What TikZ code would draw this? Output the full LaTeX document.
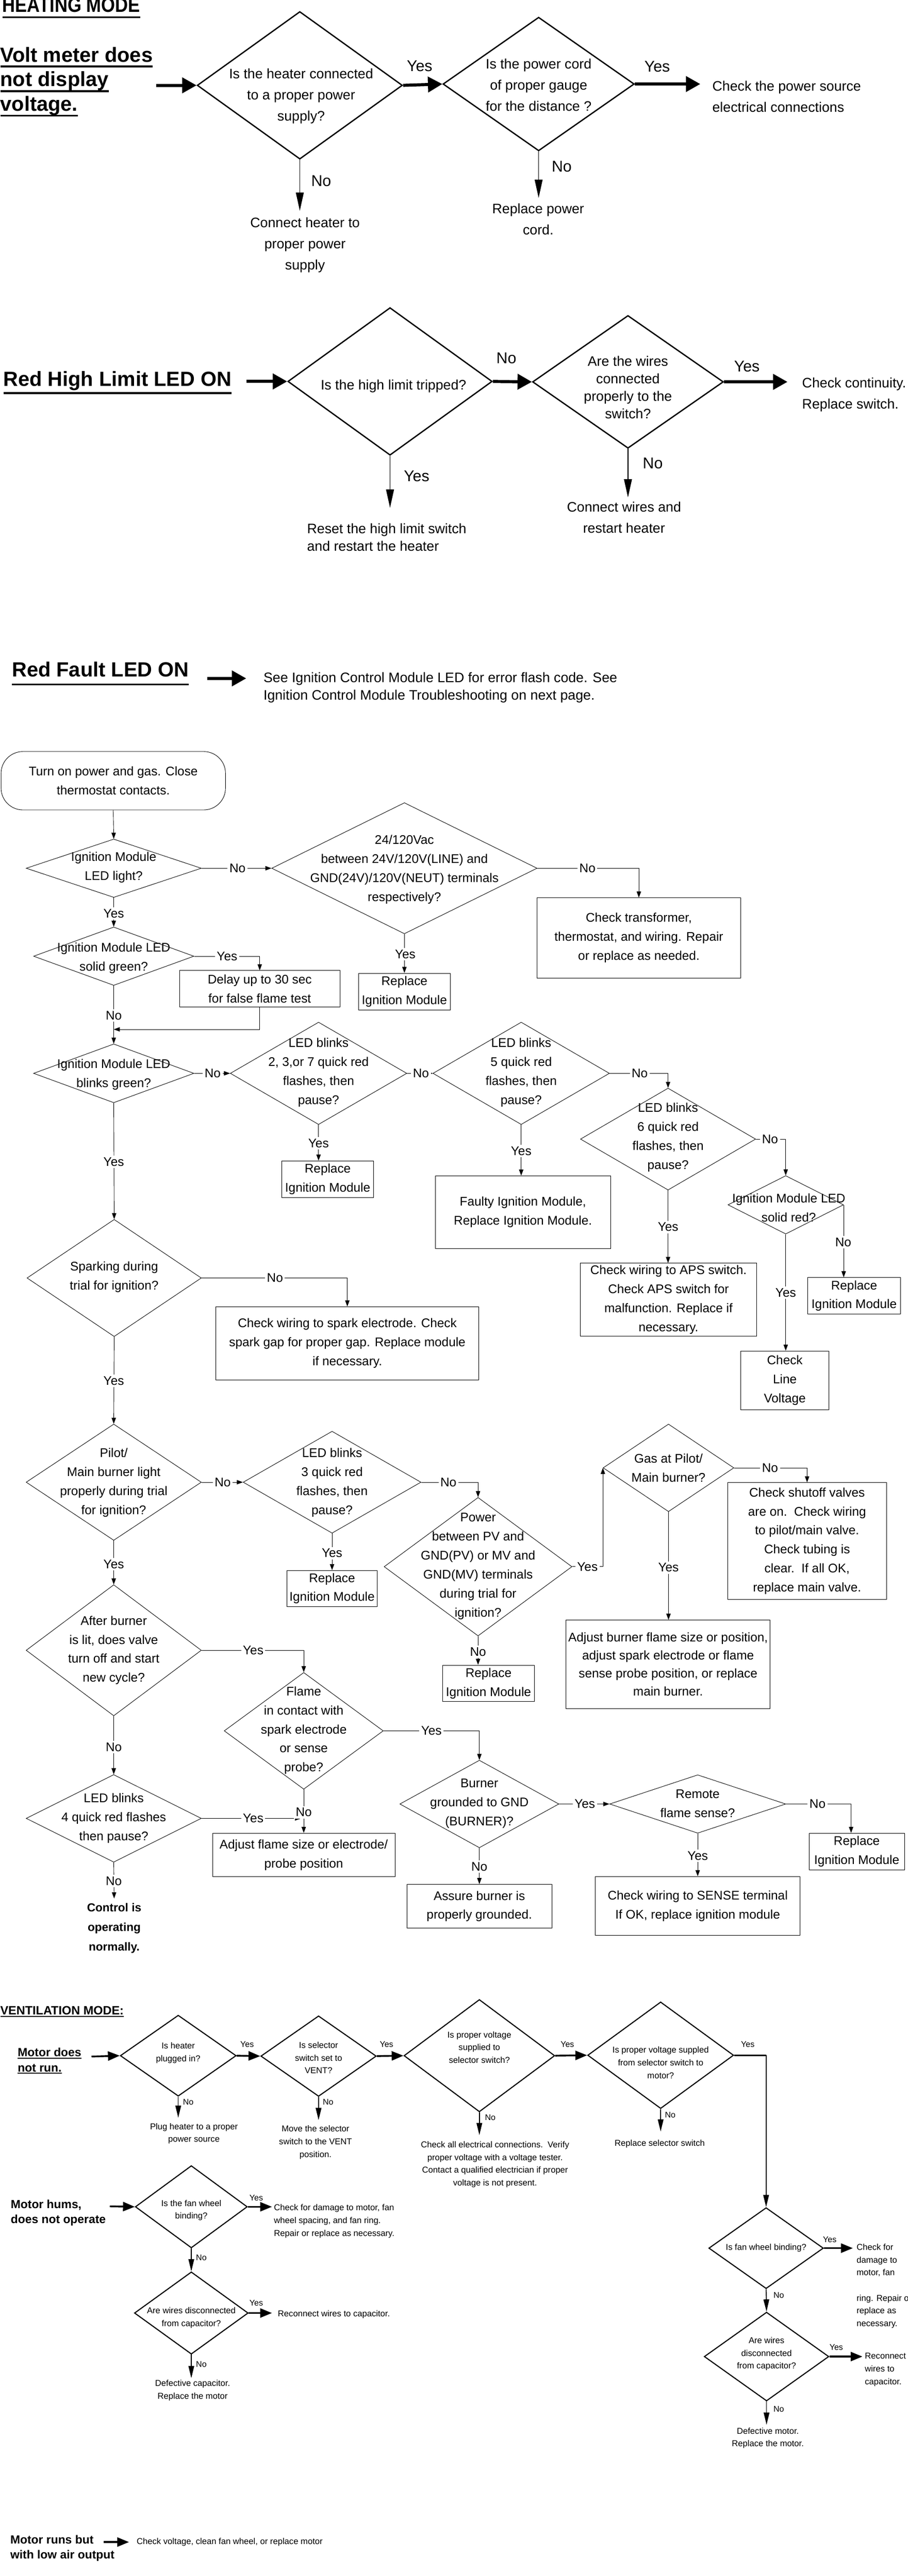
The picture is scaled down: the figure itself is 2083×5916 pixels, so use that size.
\documentclass[tikz,border=0pt]{standalone}
\usepackage{fontspec}
\setmainfont{Liberation Sans}
\usetikzlibrary{shapes.geometric,arrows.meta}

\newsavebox\ulbox
\newcommand\ulhd[3]{\sbox\ulbox{#3}\rlap{\rule[#1]{\wd\ulbox}{#2}}\usebox\ulbox}
\newcommand\hdfont{\fontsize{13.4}{16}\selectfont\bfseries}
\newcommand\htfont{\fontsize{9}{13.8}\selectfont}
\newcommand\ynfont{\fontsize{10.2}{12}\selectfont}
\newcommand\fcfont{\fontsize{8.2}{12.4}\selectfont}
\newcommand\fcbold{\fontsize{7.6}{12.8}\selectfont\bfseries}
\newcommand\vtfont{\fontsize{5.6}{8.3}\selectfont}
\newcommand\vhfont{\fontsize{7.7}{9.9}\selectfont\bfseries}
\newcommand\vynfont{\fontsize{5.4}{6}\selectfont}

\tikzset{
  hdia/.style 2 args={draw, diamond, line width=0.85pt, inner sep=0pt, minimum width=#1, minimum height=#2},
  fdia/.style 2 args={draw, diamond, line width=0.3pt, inner sep=0pt, minimum width=#1, minimum height=#2},
  vdia/.style 2 args={draw, diamond, line width=0.7pt, inner sep=0pt, minimum width=#1, minimum height=#2},
  fcrect/.style 2 args={draw, line width=0.3pt, inner sep=0pt, minimum width=#1, minimum height=#2, align=center, font=\fcfont},
  htxt/.style={inner sep=0pt, align=center, font=\htfont},
  fctx/.style={inner sep=0pt, align=center, font=\fcfont},
  vtx/.style={inner sep=0pt, align=center, font=\vtfont},
  hyn/.style={inner sep=0pt, font=\ynfont},
  fclab/.style={fill=white, inner sep=1.2pt, font=\fcfont},
  vyn/.style={inner sep=0pt, font=\vynfont},
  harr/.style={line width=2pt, -{Triangle[length=3.3mm,width=3.5mm]}},
  hdown/.style={line width=0.55pt, -{Triangle[length=4.2mm,width=1.8mm]}},
  fcl/.style={line width=0.3pt, -{Triangle[length=1.4mm,width=1mm]}},
  varr/.style={line width=1.15pt, -{Triangle[length=2.7mm,width=2.1mm]}},
  vdown/.style={line width=0.55pt, -{Triangle[length=2.8mm,width=1.3mm]}}
}

\begin{document}
\begin{tikzpicture}[x=0.1mm,y=-0.1mm]
\useasboundingbox (0,0) rectangle (2083,5916);

% heating mode
\node[anchor=west, inner sep=0pt] (hm) at (5,18) {\scalebox{0.87}[1]{\hdfont\ulhd{-1.4mm}{0.4mm}{HEATING MODE}}};
\node[anchor=west, inner sep=0pt, align=left, font=\hdfont] (vm) at (0,188) {\ulhd{-1.3mm}{0.45mm}{Volt meter does}\\\ulhd{-1.3mm}{0.45mm}{not display}\\\ulhd{-1.3mm}{0.45mm}{voltage.}};
\coordinate (vma) at (359,196);
\node[hdia={47.1mm}{33.9mm}] (h1) at (688,196) {};
\node[htxt] (h1t) at (691,221) {Is the heater connected\\to a proper power\\supply?};
\node[hdia={43.9mm}{30.7mm}] (h2) at (1236,193) {};
\node[htxt] (h2t) at (1236,195) {Is the power cord\\of proper gauge\\for the distance ?};
\node[htxt, align=left, anchor=west] (h3) at (1634,222) {Check the power source\\electrical connections};
\node[htxt] (h4) at (700,563) {Connect heater to\\proper power\\supply};
\node[htxt] (h5) at (1235,503) {Replace power\\cord.};
\draw[harr] (vma) -- (h1.west);
\draw[harr] (h1.east) -- (h2.west);
\draw[harr, shorten >=2.7mm] (h2.east) -- (h2.east -| h3.west);
\draw[hdown, shorten >=1.5mm] (h1.south) -- (h1.south |- h4.north);
\draw[hdown, shorten >=1.2mm] (h2.south) -- (h2.south |- h5.north);

% red high limit
\node[anchor=west, inner sep=0pt, font=\hdfont] (rl) at (7,879) {\ulhd{-1.8mm}{0.45mm}{Red High Limit LED ON}};
\coordinate (rla) at (565,876);
\node[hdia={46.9mm}{33.9mm}] (l1) at (895,876) {};
\node[htxt] (l1t) at (903,887) {Is the high limit tripped?};
\node[hdia={43.8mm}{30.5mm}] (l2) at (1441,877) {};
\node[htxt, font=\fontsize{9}{11.5}\selectfont] (l2t) at (1441,890) {Are the wires\\connected\\properly to the\\switch?};
\node[htxt, align=left, anchor=west] (l3) at (1840,906) {Check continuity.\\Replace switch.};
\node[htxt, align=left, anchor=west, font=\fontsize{9}{11.7}\selectfont] (l4) at (704,1234) {Reset the high limit switch\\and restart the heater};
\node[htxt] (l5) at (1432,1189) {Connect wires and\\restart heater};
\draw[harr] (rla) -- (l1.west);
\draw[harr] (l1.east) -- (l2.west);
\draw[harr, shorten >=3.3mm] (l2.east) -- (l2.east -| l3.west);
\draw[hdown, shorten >=3.5mm] (l1.south) -- (l1.south |- l4.north);
\draw[hdown, shorten >=1mm] (l2.south) -- (l2.south |- l5.north);

\foreach \lb/\x/\y [count=\i] in {Yes/963/152, Yes/1508/153, No/737/415, No/1289/382,
    No/1162/823, Yes/1714/841, Yes/956/1093, No/1498/1064}
  \node[hyn] (hq\i) at (\x,\y) {\lb};

% red fault
\node[anchor=west, inner sep=0pt, font=\hdfont] (rf) at (27,1547) {\ulhd{-2mm}{0.45mm}{Red Fault LED ON}};
\coordinate (rfa) at (476,1558);
\node[htxt, align=left, anchor=west, font=\fontsize{9}{11.7}\selectfont] (rft) at (604,1579) {See Ignition Control Module LED for error flash code. See\\Ignition Control Module Troubleshooting on next page.};
\draw[harr, shorten >=3.9mm] (rfa) -- (rfa -| rft.west);

% ignition module flow chart
\node[draw, line width=0.3pt, rounded corners=5mm, minimum width=51.5mm, minimum height=13.4mm, inner sep=0pt, align=center, font=\fcfont] (st) at (260,1793) {Turn on power and gas. Close\\thermostat contacts.};
\node[fdia={40.2mm}{13.4mm}] (d1) at (261,1994) {};
\node[fctx] (d1t) at (261,1992) {Ignition Module\\LED light?};
\node[fdia={60.9mm}{30.1mm}] (d2) at (928,1994) {};
\node[fctx] (d2t) at (928,1997) {24/120Vac\\between 24V/120V(LINE) and\\GND(24V)/120V(NEUT) terminals\\respectively?};
\node[fcrect={46.7mm}{18.4mm}] (tr) at (1466,2154) {Check transformer,\\thermostat, and wiring. Repair\\or replace as needed.};
\node[fcrect={21mm}{8.4mm}] (rim1) at (928,2277) {Replace\\Ignition Module};
\node[fdia={36.8mm}{13.4mm}] (d3) at (261,2196) {};
\node[fctx] (d3t) at (261,2200) {Ignition Module LED\\solid green?};
\node[fcrect={36.8mm}{8.4mm}] (dly) at (596,2271) {Delay up to 30 sec\\for false flame test};
\coordinate (j1) at (261,2364);
\node[fdia={36.8mm}{13.5mm}] (d4) at (261,2465) {};
\node[fctx] (d4t) at (261,2468) {Ignition Module LED\\blinks green?};
\node[fdia={40.5mm}{23.5mm}] (d5) at (731,2465) {};
\node[fctx] (d5t) at (731,2463) {LED blinks\\2, 3,or 7 quick red\\flashes, then\\pause?};
\node[fdia={40.5mm}{23.5mm}] (d6) at (1196,2465) {};
\node[fctx] (d6t) at (1196,2463) {LED blinks\\5 quick red\\flashes, then\\pause?};
\node[fdia={40.2mm}{23.4mm}] (d7) at (1533,2616) {};
\node[fctx] (d7t) at (1533,2612) {LED blinks\\6 quick red\\flashes, then\\pause?};
\node[fdia={26.5mm}{13.4mm}] (d8) at (1803,2767) {};
\node[fctx] (d8t) at (1810,2774) {Ignition Module LED\\solid red?};
\node[fcrect={21.3mm}{8.4mm}] (rim3) at (1960,2976) {Replace\\Ignition Module};
\node[fcrect={20.2mm}{13.5mm}] (clv) at (1801,3170) {Check\\Line\\Voltage};
\node[fcrect={40.4mm}{16.8mm}] (aps) at (1534,2985) {Check wiring to APS switch.\\Check APS switch for\\malfunction. Replace if\\necessary.};
\node[fcrect={40.2mm}{16.7mm}] (fim) at (1200,2784) {Faulty Ignition Module,\\Replace Ignition Module.};
\node[fcrect={21mm}{8.4mm}] (rim2) at (752,2708) {Replace\\Ignition Module};
\node[fdia={40mm}{26.9mm}] (d9) at (262,2935) {};
\node[fctx] (d9t) at (262,2933) {Sparking during\\trial for ignition?};
\node[fcrect={60.4mm}{16.8mm}] (spk) at (797,3085) {Check wiring to spark electrode. Check\\spark gap for proper gap. Replace module\\if necessary.};
\node[fdia={40.2mm}{26.7mm}] (d10) at (261,3404) {};
\node[fctx] (d10t) at (261,3405) {Pilot/\\Main burner light\\properly during trial\\for ignition?};
\node[fdia={40.8mm}{23.4mm}] (d11) at (762,3404) {};
\node[fctx] (d11t) at (762,3405) {LED blinks\\3 quick red\\flashes, then\\pause?};
\node[fcrect={20.8mm}{8.3mm}] (rim4) at (762,3648) {Replace\\Ignition Module};
\node[fdia={43.1mm}{31.8mm}] (d12) at (1097,3598) {};
\node[fctx] (d12t) at (1097,3597) {Power\\between PV and\\GND(PV) or MV and\\GND(MV) terminals\\during trial for\\ignition?};
\node[fdia={30mm}{20.1mm}] (d13) at (1534,3371) {};
\node[fctx] (d13t) at (1534,3371) {Gas at Pilot/\\Main burner?};
\node[fcrect={36.5mm}{26.8mm}] (shv) at (1852,3539) {Check shutoff valves\\are on.\ \ Check wiring\\to pilot/main valve.\\Check tubing is\\clear.\ \ If all OK,\\replace main valve.};
\node[fcrect={46.8mm}{20.3mm}, font=\fontsize{8.2}{11.7}\selectfont] (adj) at (1533,3822) {Adjust burner flame size or position,\\adjust spark electrode or flame\\sense probe position, or replace\\main burner.};
\node[fcrect={21mm}{8.4mm}] (rim5) at (1121,3866) {Replace\\Ignition Module};
\node[fdia={40.2mm}{30.1mm}] (d14) at (261,3790) {};
\node[fctx] (d14t) at (261,3790) {After burner\\is lit, does valve\\turn off and start\\new cycle?};
\node[fdia={36.5mm}{26.8mm}] (d15) at (697,3975) {};
\node[fctx] (d15t) at (697,3974) {Flame\\in contact with\\spark electrode\\or sense\\probe?};
\node[fcrect={41.9mm}{10mm}] (afs) at (697,4260) {Adjust flame size or electrode/\\probe position};
\node[fdia={36.5mm}{20.1mm}] (d16) at (1100,4143) {};
\node[fctx] (d16t) at (1100,4142) {Burner\\grounded to GND\\(BURNER)?};
\node[fdia={40.4mm}{13.4mm}] (d17) at (1601,4143) {};
\node[fctx] (d17t) at (1601,4142) {Remote\\flame sense?};
\node[fcrect={21.9mm}{8.4mm}] (rim6) at (1966,4252) {Replace\\Ignition Module};
\node[fcrect={47mm}{13.5mm}] (sns) at (1601,4377) {Check wiring to SENSE terminal\\If OK, replace ignition module};
\node[fcrect={33.3mm}{10.1mm}] (asb) at (1100,4378) {Assure burner is\\properly grounded.};
\node[fdia={40.2mm}{20.1mm}] (d18) at (261,4176) {};
\node[fctx] (d18t) at (261,4176) {LED blinks\\4 quick red flashes\\then pause?};
\node[inner sep=0pt, align=center, font=\fcbold] (ctl) at (262,4428) {Control is\\operating\\normally.};

\draw[fcl] (st.south) -- (d1.north);
\draw[fcl] (d1.east) -- (d2.west);
\draw[fcl] (d2.east) -| (tr.north);
\draw[fcl] (d2.south) -- (rim1.north);
\draw[fcl] (d1.south) -- (d3.north);
\draw[fcl] (d3.east) -| (dly.north);
\draw[fcl] (d3.south) -- (d4.north);
\draw[fcl] (dly.south) |- (j1);
\draw[fcl] (d4.east) -- (d5.west);
\draw[fcl] (d5.east) -- (d6.west);
\draw[fcl] (d6.east) -| (d7.north);
\draw[fcl] (d7.east) -| (d8.north);
\draw[fcl] (d8.east) -- (d8.east |- rim3.north);
\draw[fcl] (d8.south) -- (d8.south |- clv.north);
\draw[fcl] (d7.south) -- (d7.south |- aps.north);
\draw[fcl] (d6.south) -- (d6.south |- fim.north);
\draw[fcl] (d5.south) -- (d5.south |- rim2.north);
\draw[fcl] (d4.south) -- (d9.north);
\draw[fcl] (d9.east) -| (spk.north);
\draw[fcl] (d9.south) -- (d10.north);
\draw[fcl] (d10.east) -- (d11.west);
\draw[fcl] (d11.south) -- (rim4.north);
\draw[fcl] (d11.east) -| (d12.north);
\draw[fcl] (d12.east) -| (d13.west);
\draw[fcl] (d13.east) -| (shv.north);
\draw[fcl] (d13.south) -- (d13.south |- adj.north);
\draw[fcl] (d12.south) -- (d12.south |- rim5.north);
\draw[fcl] (d10.south) -- (d14.north);
\draw[fcl] (d14.east) -| (d15.north);
\draw[fcl] (d15.east) -| (d16.north);
\draw[fcl] (d15.south) -- (afs.north);
\draw[fcl] (d16.east) -- (d17.west);
\draw[fcl] (d17.east) -| ([xshift=-1.3mm]rim6.north);
\draw[fcl] (d17.south) -- (sns.north);
\draw[fcl] (d16.south) -- (asb.north);
\draw[fcl] (d14.south) -- (d18.north);
\draw[fcl, shorten >=0.6mm] (d18.east) -- (d18.east -| d15.south);
\draw[fcl, shorten >=1mm] (d18.south) -- (ctl.north);

\foreach \lb/\x/\y [count=\i] in {No/545/1994, No/1348/1994, Yes/930/2191, Yes/261/2098,
    Yes/521/2196, No/261/2332, No/488/2465, No/966/2465, No/1468/2465, No/1767/2616,
    No/1935/2853, Yes/1803/2969, Yes/1533/2818, Yes/1196/2643, Yes/731/2626,
    Yes/261/2668, No/631/2935, Yes/261/3171, No/511/3404, Yes/762/3567, No/1029/3404,
    Yes/1348/3598, No/1767/3371, Yes/1534/3600, No/1097/3793, Yes/261/3592,
    Yes/581/3790, Yes/990/3975, No/697/4162, Yes/1342/4143, No/1876/4143,
    Yes/1601/4262, No/1100/4287, No/261/4012, Yes/581/4176, No/261/4320}
  \node[fclab] (fq\i) at (\x,\y) {\lb};

% ventilation mode
\node[anchor=west, inner sep=0pt, font=\fontsize{7.9}{9}\selectfont\bfseries] (vt) at (0,4620) {\ulhd{-0.5mm}{0.25mm}{VENTILATION MODE:}};
\node[anchor=west, inner sep=0pt, align=left, font=\vhfont] (md) at (40,4733) {\ulhd{-0.45mm}{0.25mm}{Motor does}\\\ulhd{-0.45mm}{0.25mm}{not run.}};
\coordinate (mda) at (210,4723);
\node[vdia={26.6mm}{18.6mm}] (v1) at (409,4721) {};
\node[vtx] (v1t) at (409,4715) {Is heater\\plugged in?};
\node[vdia={26.5mm}{18.5mm}] (v2) at (731,4722) {};
\node[vtx] (v2t) at (731,4726) {Is selector\\switch set to\\VENT?};
\node[vdia={34.6mm}{25.8mm}] (v3) at (1100,4721) {};
\node[vtx] (v3t) at (1100,4702) {Is proper voltage\\supplied to\\selector switch?};
\node[vdia={33.5mm}{24.5mm}] (v4) at (1516,4720) {};
\node[vtx] (v4t) at (1516,4737) {Is proper voltage suppled\\from selector switch to\\motor?};
\node[vtx] (v1r) at (445,4900) {Plug heater to a proper\\power source};
\node[vtx] (v2r) at (724,4920) {Move the selector\\switch to the VENT\\position.};
\node[vtx] (v3r) at (1136,4971) {Check all electrical connections.\ \ Verify\\proper voltage with a voltage tester.\\Contact a qualified electrician if proper\\voltage is not present.};
\node[vtx] (v4r) at (1514,4923) {Replace selector switch};
\draw[varr] (mda) -- (v1.west);
\draw[varr] (v1.east) -- (v2.west);
\draw[varr] (v2.east) -- (v3.west);
\draw[varr] (v3.east) -- (v4.west);
\draw[vdown, shorten >=1.2mm] (v1.south) -- (v1.south |- v1r.north);
\draw[vdown, shorten >=1.2mm] (v2.south) -- (v2.south |- v2r.north);
\draw[vdown, shorten >=1.4mm] (v3.south) -- (v3.south |- v3r.north);
\draw[vdown, shorten >=1.8mm] (v4.south) -- (v4.south |- v4r.north);

\node[anchor=west, inner sep=0pt, align=left, font=\vhfont] (mh) at (24,5082) {Motor hums,\\does not operate};
\coordinate (mha) at (252,5067);
\node[vdia={25.7mm}{18.9mm}] (m1) at (439,5068) {};
\node[vtx] (m1t) at (439,5076) {Is the fan wheel\\binding?};
\node[vtx, align=left, anchor=west] (m1r) at (628,5101) {Check for damage to motor, fan\\wheel spacing, and fan ring.\\Repair or replace as necessary.};
\node[vdia={26.1mm}{18.9mm}] (m2) at (439,5312) {};
\node[vtx] (m2t) at (439,5323) {Are wires disconnected\\from capacitor?};
\node[vtx, anchor=west] (m2r) at (637,5315) {Reconnect wires to capacitor.};
\node[vtx] (m2d) at (442,5490) {Defective capacitor.\\Replace the motor};
\draw[varr] (mha) -- (m1.west);
\draw[varr, shorten >=0.4mm] (m1.east) -- (m1.east -| m1r.west);
\draw[vdown] (m1.south) -- (m2.north);
\draw[varr, shorten >=1.3mm] (m2.east) -- (m2.east -| m2r.west);
\draw[vdown, shorten >=0.4mm] (m2.south) -- (m2.south |- m2d.north);

\node[vdia={26.3mm}{18.6mm}] (w1) at (1758,5163) {};
\node[vtx] (w1t) at (1758,5163) {Is fan wheel binding?};
\node[vtx, align=left, anchor=west] (w1r) at (1965,5250) {Check for\\damage to\\motor, fan\\[8.3pt]ring. Repair or\\replace as\\necessary.};
\node[vdia={28.6mm}{20.4mm}] (w2) at (1759,5412) {};
\node[vtx] (w2t) at (1759,5406) {Are wires\\disconnected\\from capacitor?};
\node[vtx, align=left, anchor=west] (w2r) at (1984,5442) {Reconnect\\wires to\\capacitor.};
\node[vtx] (w2d) at (1762,5599) {Defective motor.\\Replace the motor.};
\draw[line width=1.15pt] (v4.east) -- (v4.east -| w1.north);
\draw[vdown] (v4.east -| w1.north) -- (w1.north);
\draw[varr, shorten >=0.8mm] (w1.east) -- (w1.east -| w1r.west);
\draw[vdown] (w1.south) -- (w2.north);
\draw[varr, shorten >=0.5mm] (w2.east) -- (w2.east -| w2r.west);
\draw[vdown, shorten >=0.6mm] (w2.south) -- (w2.south |- w2d.north);

\node[anchor=west, inner sep=0pt, align=left, font=\vhfont] (mr) at (23,5852) {Motor runs but\\with low air output};
\coordinate (mra) at (238,5838);
\node[vtx, anchor=west] (mrt) at (313,5838) {Check voltage, clean fan wheel, or replace motor};
\draw[varr, shorten >=1.7mm] (mra) -- (mrt.west);

\foreach \lb/\x/\y [count=\i] in {Yes/567/4695, Yes/887/4695, Yes/1302/4695, Yes/1716/4695,
    No/432/4828, No/753/4828, No/1125/4863, No/1538/4857, Yes/588/5047, No/462/5185,
    Yes/588/5289, No/462/5430, Yes/1904/5143, No/1787/5271, Yes/1919/5391, No/1787/5533}
  \node[vyn] (vq\i) at (\x,\y) {\lb};
\end{tikzpicture}
\end{document}
